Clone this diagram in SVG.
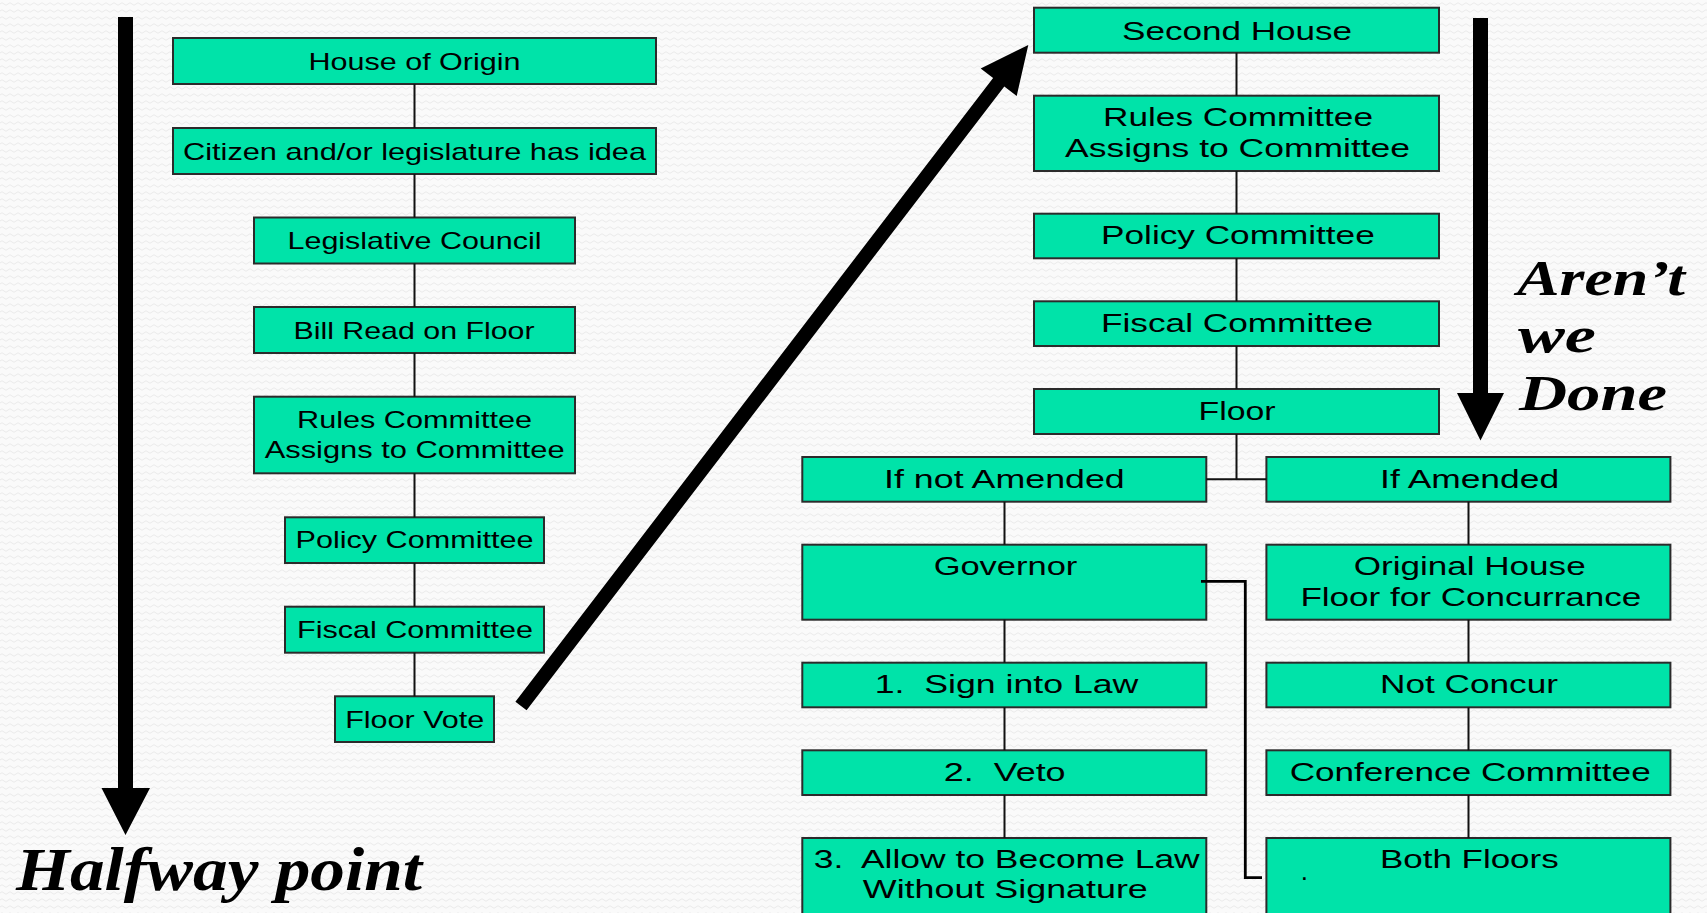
<svg xmlns="http://www.w3.org/2000/svg" width="1707" height="913" viewBox="0 0 1707 913">
<defs>
<style>
.box{fill:#00e3a9;stroke:#2b2b2b;stroke-width:2}
.t{font-family:"Liberation Sans",Arial,sans-serif;font-size:24px;text-anchor:middle;fill:#000}
.r{font-size:26px}
.s{font-family:"Liberation Serif","DejaVu Serif",serif;font-style:italic;font-weight:bold;fill:#000}
.c{fill:none;stroke:#111;stroke-width:2}
.arrow{fill:#000}
</style>
<pattern id="bg" width="8" height="7" patternUnits="userSpaceOnUse">
<rect width="8" height="7" fill="#fafafa"/>
<path d="M0,4 Q2,1.5 4,4 T8,4" fill="none" stroke="#ebebeb" stroke-width="1"/>
</pattern>
</defs>
<rect width="1707" height="913" fill="url(#bg)"/>

<g id="arrow-left">
<polygon class="arrow" points="118,17 133,17 133,788 150,788 125.5,835 101.5,788 118,788"/>
</g>
<g id="arrow-diagonal">
<polygon class="arrow" points="515.4,701.7 993.1,77.9 980.7,68.5 1028.3,45 1016.7,96 1004.3,86.5 526.6,710.3"/>
</g>
<g id="arrow-right">
<polygon class="arrow" points="1473,18 1488,18 1488,393 1504,393 1480.5,440.5 1457,393 1473,393"/>
</g>

<g id="house-of-origin"><rect class="box" x="173" y="38" width="483" height="46"/><text class="t" x="414.5" y="70" textLength="212" lengthAdjust="spacingAndGlyphs">House of Origin</text></g>
<g id="citizen"><rect class="box" x="173" y="128" width="483" height="46"/><text class="t" x="414.5" y="159.5" textLength="463" lengthAdjust="spacingAndGlyphs">Citizen and/or legislature has idea</text></g>
<g id="legislative-council"><rect class="box" x="254" y="217.5" width="321" height="46"/><text class="t" x="414.5" y="249" textLength="254" lengthAdjust="spacingAndGlyphs">Legislative Council</text></g>
<g id="bill-read"><rect class="box" x="254" y="307" width="321" height="46"/><text class="t" x="414" y="338.5" textLength="241" lengthAdjust="spacingAndGlyphs">Bill Read on Floor</text></g>
<g id="rules-1"><rect class="box" x="254" y="396.7" width="321" height="76.6"/><text class="t" x="414.5" y="427.7" textLength="235" lengthAdjust="spacingAndGlyphs">Rules Committee</text><text class="t" x="414.7" y="458.3" textLength="300" lengthAdjust="spacingAndGlyphs">Assigns to Committee</text></g>
<g id="policy-1"><rect class="box" x="285" y="517.3" width="259" height="45.7"/><text class="t" x="414.5" y="548" textLength="238" lengthAdjust="spacingAndGlyphs">Policy Committee</text></g>
<g id="fiscal-1"><rect class="box" x="285" y="606.7" width="259" height="46"/><text class="t" x="415" y="637.7" textLength="236" lengthAdjust="spacingAndGlyphs">Fiscal Committee</text></g>
<g id="floor-vote"><rect class="box" x="335" y="696.3" width="159" height="45.7"/><text class="t" x="414.7" y="727.7" textLength="139" lengthAdjust="spacingAndGlyphs">Floor Vote</text></g>

<g id="second-house"><rect class="box" x="1034" y="7.7" width="405" height="45"/><text class="t r" x="1237" y="39.5" textLength="230" lengthAdjust="spacingAndGlyphs">Second House</text></g>
<g id="rules-2"><rect class="box" x="1034" y="95.7" width="405" height="75.3"/><text class="t r" x="1238" y="126" textLength="270" lengthAdjust="spacingAndGlyphs">Rules Committee</text><text class="t r" x="1237.6" y="156.7" textLength="345" lengthAdjust="spacingAndGlyphs">Assigns to Committee</text></g>
<g id="policy-2"><rect class="box" x="1034" y="213.7" width="405" height="44.6"/><text class="t r" x="1237.9" y="244.3" textLength="273.7" lengthAdjust="spacingAndGlyphs">Policy Committee</text></g>
<g id="fiscal-2"><rect class="box" x="1034" y="301.3" width="405" height="44.7"/><text class="t r" x="1237" y="332.3" textLength="272" lengthAdjust="spacingAndGlyphs">Fiscal Committee</text></g>
<g id="floor"><rect class="box" x="1034" y="389" width="405" height="45"/><text class="t r" x="1237" y="420" textLength="77" lengthAdjust="spacingAndGlyphs">Floor</text></g>

<g id="if-not-amended"><rect class="box" x="802.3" y="457" width="404" height="44.7"/><text class="t r" x="1004.4" y="488.3" textLength="240.7" lengthAdjust="spacingAndGlyphs">If not Amended</text></g>
<g id="governor"><rect class="box" x="802.3" y="544.7" width="404" height="75"/><text class="t r" x="1005.5" y="575" textLength="143.7" lengthAdjust="spacingAndGlyphs">Governor</text></g>
<g id="sign"><rect class="box" x="802.3" y="662.7" width="404" height="44.6"/><text class="t r" x="1006.5" y="693.3" textLength="263.7" lengthAdjust="spacingAndGlyphs" xml:space="preserve">1.  Sign into Law</text></g>
<g id="veto"><rect class="box" x="802.3" y="750.3" width="404" height="44.7"/><text class="t r" x="1004.7" y="780.7" textLength="121.8" lengthAdjust="spacingAndGlyphs" xml:space="preserve">2.  Veto</text></g>
<g id="allow"><rect class="box" x="802.3" y="838" width="404" height="80"/><text class="t r" x="1006.7" y="867.7" textLength="386" lengthAdjust="spacingAndGlyphs" xml:space="preserve">3.  Allow to Become Law</text><text class="t r" x="1005.3" y="898.3" textLength="285" lengthAdjust="spacingAndGlyphs">Without Signature</text></g>

<g id="if-amended"><rect class="box" x="1266.4" y="457" width="404" height="44.7"/><text class="t r" x="1469.6" y="488.3" textLength="179" lengthAdjust="spacingAndGlyphs">If Amended</text></g>
<g id="original-house"><rect class="box" x="1266.4" y="544.7" width="404" height="75"/><text class="t r" x="1469.7" y="575" textLength="232" lengthAdjust="spacingAndGlyphs">Original House</text><text class="t r" x="1470.9" y="605.7" textLength="341" lengthAdjust="spacingAndGlyphs">Floor for Concurrance</text></g>
<g id="not-concur"><rect class="box" x="1266.4" y="662.7" width="404" height="44.6"/><text class="t r" x="1469" y="693.3" textLength="178" lengthAdjust="spacingAndGlyphs">Not Concur</text></g>
<g id="conference"><rect class="box" x="1266.4" y="750.3" width="404" height="44.7"/><text class="t r" x="1470.2" y="780.7" textLength="361" lengthAdjust="spacingAndGlyphs">Conference Committee</text></g>
<g id="both-floors"><rect class="box" x="1266.4" y="838" width="404" height="80"/><text class="t r" x="1469.3" y="867.7" textLength="178.6" lengthAdjust="spacingAndGlyphs">Both Floors</text><text class="t r" x="1304.4" y="879.5">.</text></g>

<g id="connectors">
<path class="c" d="M414.5,84V128M414.5,174V217.5M414.5,263.5V307M414.5,353V396.7M414.5,473.3V517.3M414.5,563V606.7M414.5,652.7V696.3"/>
<path class="c" d="M1236.5,52.7V95.7M1236.5,171V213.7M1236.5,258.3V301.3M1236.5,346V389M1236.5,434V479.2M1206.3,479.2H1266.4"/>
<path class="c" d="M1004.5,501.7V544.7M1004.5,619.7V662.7M1004.5,707.3V750.3M1004.5,795V838"/>
<path class="c" d="M1468.5,501.7V544.7M1468.5,619.7V662.7M1468.5,707.3V750.3M1468.5,795V838"/>
<path class="c" style="stroke:#000;stroke-width:2.8" d="M1201,581.3H1245.3V877.7H1262"/>
</g>

<g id="labels">
<text class="s" x="16" y="890" font-size="62" textLength="406" lengthAdjust="spacingAndGlyphs">Halfway point</text>
<text class="s" x="1517" y="295" font-size="50" textLength="168" lengthAdjust="spacingAndGlyphs">Aren’t</text>
<text class="s" x="1518" y="351.7" font-size="50" textLength="78" lengthAdjust="spacingAndGlyphs">we</text>
<text class="s" x="1519" y="410" font-size="50" textLength="148" lengthAdjust="spacingAndGlyphs">Done</text>
</g>
</svg>
